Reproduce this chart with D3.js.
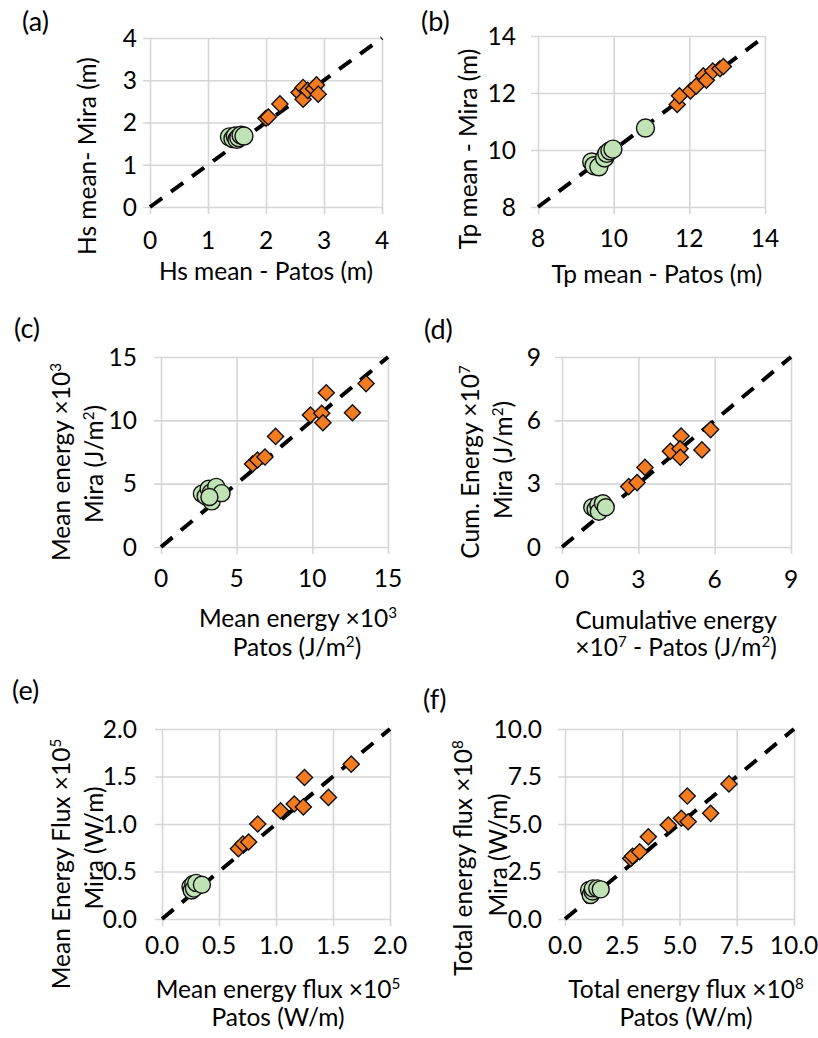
<!DOCTYPE html>
<html>
<head>
<meta charset="utf-8">
<script src="https://cdn.jsdelivr.net/npm/d3@7"></script>
<style>
  body { margin: 0; background: #fff; }
  svg { display: block; }
  text { font-family: Lato, "Open Sans", sans-serif; fill: #000; }
</style>
</head>
<body>
<svg id="chart" width="818" height="1038"></svg>
<script>
// ---- data (Patos on x, Mira on y) ----
const hsTicks = [0, 1, 2, 3, 4];
const hsGreen = [[1.37,1.66],[1.43,1.62],[1.47,1.68],[1.50,1.60],[1.53,1.64],[1.57,1.70],[1.62,1.68]];
const hsOrange = [[2.00,2.10],[2.04,2.13],[2.24,2.44],[2.57,2.71],[2.64,2.83],[2.64,2.55],[2.72,2.76],[2.82,2.80],[2.87,2.89],[2.90,2.67]];

const tpTicks = [8, 10, 12, 14];
const tpGreen = [[9.42,9.58],[9.48,9.45],[9.61,9.41],[9.76,9.72],[9.82,9.88],[9.90,9.97],[9.98,10.03],[10.84,10.77]];
const tpOrange = [[11.68,11.60],[11.74,11.90],[12.03,12.07],[12.18,12.24],[12.37,12.60],[12.45,12.45],[12.62,12.77],[12.81,12.85],[12.90,12.93]];

const energyTicks = [0, 5, 10, 15];
const energyGreen = [[2.7,4.2],[2.95,4.0],[3.15,4.6],[3.3,4.3],[3.35,3.6],[3.65,4.75],[4.0,4.25],[3.2,3.95]];
const energyOrange = [[6.05,6.55],[6.38,6.87],[6.87,7.1],[7.57,8.73],[9.87,10.42],[10.62,10.55],[10.7,9.81],[10.92,12.18],[12.65,10.6],[13.55,12.9]];

const cumTicks = [0, 3, 6, 9];
const cumGreen = [[1.19,1.88],[1.32,1.79],[1.43,1.99],[1.45,1.67],[1.61,2.07],[1.72,1.88]];
const cumOrange = [[2.62,2.86],[2.95,3.05],[3.26,3.77],[4.26,4.53],[4.68,5.26],[4.64,4.65],[4.65,4.25],[5.50,4.60],[5.84,5.56]];

const fluxTicks = [0, 0.5, 1, 1.5, 2];
const fluxGreen = [[0.25,0.34],[0.26,0.30],[0.275,0.37],[0.28,0.32],[0.30,0.38],[0.35,0.36]];
const fluxOrange = [[0.67,0.74],[0.71,0.79],[0.76,0.81],[0.84,1.00],[1.04,1.14],[1.16,1.21],[1.24,1.18],[1.25,1.49],[1.46,1.28],[1.66,1.63]];

const totalTicks = [0, 2.5, 5, 7.5, 10];
const totalGreen = [[1.05,1.53],[1.12,1.26],[1.20,1.45],[1.22,1.61],[1.41,1.61],[1.56,1.56]];
const totalOrange = [[2.87,3.19],[2.95,3.30],[3.26,3.54],[3.64,4.33],[4.51,4.95],[5.08,5.30],[5.38,5.12],[5.34,6.47],[6.36,5.56],[7.16,7.11]];

const greenFill = "#bfe3b5";
const orangeFill = "#f47b20";
const gridColor = "#d6d6d6";
const fs = 24.5;

// panel layout: box = [left, top, right, bottom]
const panels = [
  { tag: "(a)", tagPos: [22, 31], ticks: hsTicks, fmt: d3.format("d"), green: hsGreen, orange: hsOrange,
    box: [150, 38, 382, 207], yLabX: 137, xLabY: 249, r: 9,
    yTitle: [{ t: "Hs mean- Mira (m)", x: 96, y: 156 }],
    xTitle: [{ t: "Hs mean - Patos (m)", x: 266, y: 280 }] },
  { tag: "(b)", tagPos: [421, 31], ticks: tpTicks, fmt: d3.format("d"), green: tpGreen, orange: tpOrange,
    box: [538, 36, 765, 207], yLabX: 516, xLabY: 247, r: 9,
    yTitle: [{ t: "Tp mean - Mira (m)", x: 477, y: 149 }],
    xTitle: [{ t: "Tp mean - Patos (m)", x: 657, y: 283 }] },
  { tag: "(c)", tagPos: [14, 338], ticks: energyTicks, fmt: d3.format("d"), green: energyGreen, orange: energyOrange,
    box: [161, 357, 388, 547], yLabX: 137, xLabY: 587, r: 8.5,
    yTitle: [{ t: "Mean energy ×10^3", x: 70, y: 462 }, { t: "Mira (J/m^2)", x: 103, y: 464 }],
    xTitle: [{ t: "Mean energy ×10^3", x: 298, y: 627 }, { t: "Patos (J/m^2)", x: 297, y: 656 }] },
  { tag: "(d)", tagPos: [424, 339], ticks: cumTicks, fmt: d3.format("d"), green: cumGreen, orange: cumOrange,
    box: [562, 357, 791, 547], yLabX: 541, xLabY: 588, r: 8.5,
    yTitle: [{ t: "Cum. Energy ×10^7", x: 479, y: 462 }, { t: "Mira (J/m^2)", x: 512, y: 460 }],
    xTitle: [{ t: "Cumulative energy", x: 676, y: 629 }, { t: "×10^7 - Patos (J/m^2)", x: 676, y: 656 }] },
  { tag: "(e)", tagPos: [12, 700], ticks: fluxTicks, fmt: d3.format(".1f"), green: fluxGreen, orange: fluxOrange,
    box: [162, 729, 390, 919], yLabX: 137, xLabY: 954, r: 8.5,
    yTitle: [{ t: "Mean Energy Flux ×10^5", x: 70, y: 864 }, { t: "Mira (W/m)", x: 103, y: 848 }],
    xTitle: [{ t: "Mean energy flux ×10^5", x: 278, y: 998 }, { t: "Patos (W/m)", x: 278, y: 1026 }] },
  { tag: "(f)", tagPos: [423, 709], ticks: totalTicks, fmt: d3.format(".1f"), green: totalGreen, orange: totalOrange,
    box: [565, 729, 794, 919], yLabX: 542, xLabY: 954, r: 8.5,
    yTitle: [{ t: "Total energy flux ×10^8", x: 472, y: 858 }, { t: "Mira (W/m)", x: 507, y: 855 }],
    xTitle: [{ t: "Total energy flux ×10^8", x: 686, y: 998 }, { t: "Patos (W/m)", x: 686, y: 1026 }] }
];

const svg = d3.select("#chart");

// text with "^n" superscripts
function richText(sel, str) {
  const parts = str.split(/\^(\d)/);
  parts.forEach((p, i) => {
    if (!p) return;
    const ts = sel.append("tspan").text(p);
    if (i % 2 === 1) ts.attr("baseline-shift", "super").attr("font-size", fs * 0.62);
  });
}

const square = d3.symbol().type(d3.symbolSquare);

panels.forEach(p => {
  const [l, t, r, b] = p.box;
  const dom = d3.extent(p.ticks);
  const x = d3.scaleLinear().domain(dom).range([l, r]);
  const y = d3.scaleLinear().domain(dom).range([b, t]);
  const g = svg.append("g");

  // grid + outward ticks
  g.append("g").attr("transform", `translate(0,${b})`)
    .call(d3.axisBottom(x).tickValues(p.ticks).tickSize(-(b - t)).tickSizeOuter(0).tickFormat(""))
    .call(s => s.select(".domain").remove())
    .call(s => s.selectAll("line").attr("y2", -(b - t)).attr("y1", 7).attr("stroke", gridColor).attr("stroke-width", 1.6));
  g.append("g").attr("transform", `translate(${l},0)`)
    .call(d3.axisLeft(y).tickValues(p.ticks).tickSize(-(r - l)).tickSizeOuter(0).tickFormat(""))
    .call(s => s.select(".domain").remove())
    .call(s => s.selectAll("line").attr("x2", r - l).attr("x1", -7).attr("stroke", gridColor).attr("stroke-width", 1.6));

  // tick labels
  g.selectAll("text.xl").data(p.ticks).join("text").attr("class", "xl")
    .attr("x", d => x(d)).attr("y", p.xLabY).attr("text-anchor", "middle")
    .attr("font-size", fs).text(p.fmt);
  g.selectAll("text.yl").data(p.ticks).join("text").attr("class", "yl")
    .attr("x", p.yLabX).attr("y", d => y(d) + 8.8).attr("text-anchor", "end")
    .attr("font-size", fs).text(p.fmt);

  // 1:1 line
  g.append("line")
    .attr("x1", x(dom[0])).attr("y1", y(dom[0]))
    .attr("x2", x(dom[1])).attr("y2", y(dom[1]))
    .attr("stroke", "#000").attr("stroke-width", 4)
    .attr("stroke-dasharray", "15,11");

  // points
  g.selectAll("circle.gr").data(p.green).join("circle").attr("class", "gr")
    .attr("cx", d => x(d[0])).attr("cy", d => y(d[1])).attr("r", p.r)
    .attr("fill", greenFill).attr("stroke", "#111").attr("stroke-width", 1.4);
  g.selectAll("path.or").data(p.orange).join("path").attr("class", "or")
    .attr("d", square.size(130))
    .attr("transform", d => `translate(${x(d[0])},${y(d[1])}) rotate(45)`)
    .attr("fill", orangeFill).attr("stroke", "#111").attr("stroke-width", 1.4);

  // titles
  p.yTitle.forEach(tt => {
    g.append("text").attr("transform", `translate(${tt.x},${tt.y}) rotate(-90)`)
      .attr("text-anchor", "middle").attr("font-size", fs).call(richText, tt.t);
  });
  p.xTitle.forEach(tt => {
    g.append("text").attr("x", tt.x).attr("y", tt.y)
      .attr("text-anchor", "middle").attr("font-size", fs).call(richText, tt.t);
  });
  g.append("text").attr("x", p.tagPos[0]).attr("y", p.tagPos[1])
    .attr("font-size", 27).text(p.tag);
});
</script>
</body>
</html>
